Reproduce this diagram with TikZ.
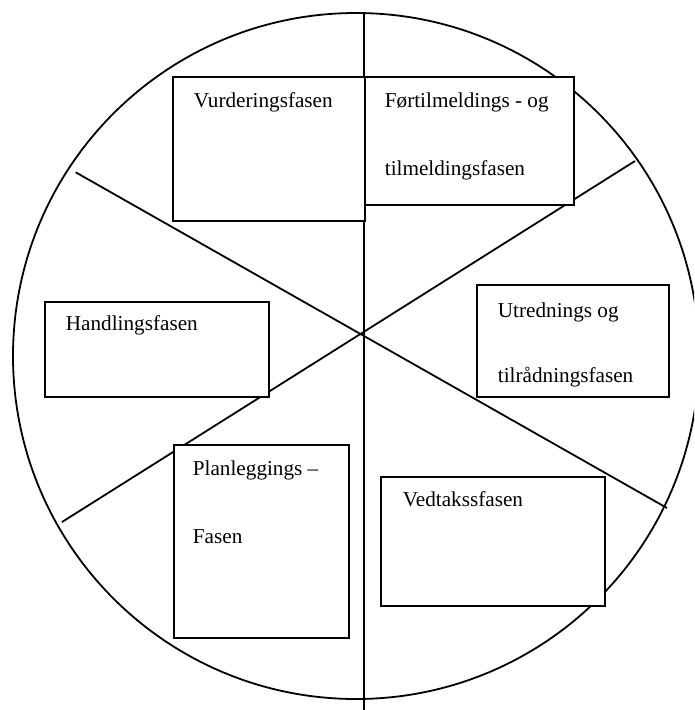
\documentclass[tikz,border=0pt]{standalone}
\usepackage{fontspec}
\setmainfont{Liberation Serif}
\begin{document}
\begin{tikzpicture}[x=1pt,y=-1pt,line width=1.8pt,
  phase/.style={draw, fill=white, line width=2pt, inner sep=0pt, anchor=north west},
  lbl/.style={anchor=base west, inner sep=0pt, font=\fontsize{21.2}{25}\selectfont}]
\useasboundingbox (0,0) rectangle (694,710);
\clip (0,0) rectangle (694,710);
\node[circle, draw, minimum size=686pt, inner sep=0pt] (ring) at (356,356) {};
\coordinate (a1) at (75.7,172.3); \coordinate (a2) at (667,508);
\coordinate (b1) at (62,522);     \coordinate (b2) at (635,161);
\coordinate (v1) at (364,13);     \coordinate (v2) at (364,712);
\draw (v1) -- (v2);
\draw (a1) -- (a2);
\draw (b1) -- (b2);
\node[phase, minimum width=192pt, minimum height=144pt] (vurd) at (172,76) {};
\node[phase, minimum width=209pt, minimum height=128pt] (fort) at (364,76) {};
\node[phase, minimum width=224pt, minimum height=95pt]  (hand) at (44,301) {};
\node[phase, minimum width=192pt, minimum height=112pt] (utre) at (476,284) {};
\node[phase, minimum width=175pt, minimum height=193pt] (plan) at (173,444) {};
\node[phase, minimum width=224pt, minimum height=129pt] (vedt) at (380,476) {};
\node[lbl] (t1) at ([shift={(21,31)}]vurd.north west) {Vurderingsfasen};
\node[lbl] (t2) at ([shift={(20,31)}]fort.north west) {Førtilmeldings - og};
\node[lbl] (t3) at ([shift={(20,99)}]fort.north west) {tilmeldingsfasen};
\node[lbl] (t4) at ([shift={(21,29)}]hand.north west) {Handlingsfasen};
\node[lbl] (t5) at ([shift={(21,33)}]utre.north west) {Utrednings og};
\node[lbl] (t6) at ([shift={(21,98)}]utre.north west) {tilrådningsfasen};
\node[lbl] (t7) at ([shift={(19,31)}]plan.north west) {Planleggings –};
\node[lbl] (t8) at ([shift={(19,99)}]plan.north west) {Fasen};
\node[lbl] (t9) at ([shift={(22,30)}]vedt.north west) {Vedtakssfasen};
\end{tikzpicture}
\end{document}
